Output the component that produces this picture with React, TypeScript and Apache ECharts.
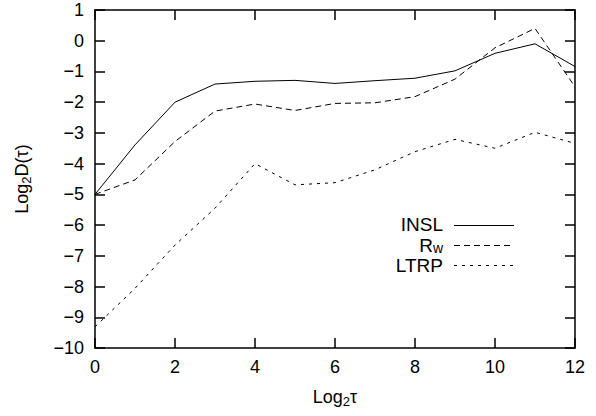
import React, { useEffect, useRef } from "react";
import * as echarts from "echarts";

const xs = [0, 1, 2, 3, 4, 5, 6, 7, 8, 9, 10, 11, 12];
const insl = [-5.0, -3.39, -2.0, -1.41, -1.32, -1.29, -1.39, -1.3, -1.22, -0.98, -0.41, -0.1, -0.84];
const rw = [-5.0, -4.53, -3.28, -2.29, -2.06, -2.27, -2.04, -2.02, -1.82, -1.25, -0.23, 0.4, -1.5];
const ltrp = [-9.31, -8.06, -6.65, -5.45, -4.0, -4.69, -4.62, -4.2, -3.61, -3.21, -3.5, -2.98, -3.34];

const FONT = "'Liberation Sans', Arial, sans-serif";
const FS = 18;
const LFS = 19;

const rich = {
  m: { fontSize: FS, fontFamily: FONT, color: "#000" },
  sub: { fontSize: 13, fontFamily: FONT, color: "#000", padding: [9, 0, 0, 0] },
};
const legRich = {
  m: { fontSize: LFS, fontFamily: FONT, color: "#000", lineHeight: 16 },
  sub: { fontSize: 14, fontFamily: FONT, color: "#000", lineHeight: 12, padding: [5, 0, 0, 0] },
};

export default function App() {
  const ref = useRef<HTMLDivElement>(null);
  useEffect(() => {
    if (!ref.current) return;
    const chart = echarts.init(ref.current, null, { renderer: "svg" });
    const axisLine = { show: true, onZero: false, lineStyle: { color: "#000", width: 1.5 } };
    const axisTick = { show: true, inside: true, length: 10, lineStyle: { color: "#000", width: 1.5 } };
    const fmt = (v: number) => String(v).replace("-", "\u2212");
    const mk = (d: number[]) => xs.map((x, i) => [x, d[i]]);
    chart.setOption({
      animation: false,
      backgroundColor: "#fff",
      grid: { left: 95, top: 10, right: 21, bottom: 68, containLabel: false },
      xAxis: [
        {
          type: "value", min: 0, max: 12, interval: 2, position: "bottom",
          axisLine, axisTick, splitLine: { show: false },
          axisLabel: { color: "#000", fontSize: FS, fontFamily: FONT, margin: 10, formatter: fmt },
          name: "{m|Log}{sub|2}{m|\u03c4}", nameLocation: "middle", nameGap: 38,
          nameTextStyle: { rich },
        },
        {
          type: "value", min: 0, max: 12, interval: 2, position: "top",
          axisLine, axisTick, splitLine: { show: false }, axisLabel: { show: false },
        },
      ],
      yAxis: [
        {
          type: "value", min: -10, max: 1, interval: 1, position: "left",
          axisLine, axisTick, splitLine: { show: false },
          axisLabel: { color: "#000", fontSize: FS, fontFamily: FONT, margin: 11, formatter: fmt },
          name: "{m|Log}{sub|2}{m|D(\u03c4)}", nameLocation: "middle", nameGap: 62,
          nameRotate: 90, nameTextStyle: { rich },
        },
        {
          type: "value", min: -10, max: 1, interval: 1, position: "right",
          axisLine, axisTick, splitLine: { show: false }, axisLabel: { show: false },
        },
      ],
      series: [
        { type: "line", name: "INSL", data: mk(insl), symbol: "none", lineStyle: { color: "#000", width: 1, type: "solid" } },
        { type: "line", name: "Rw", data: mk(rw), symbol: "none", lineStyle: { color: "#000", width: 1, type: [6, 4] } },
        { type: "line", name: "LTRP", data: mk(ltrp), symbol: "none", lineStyle: { color: "#000", width: 1, type: [3, 5] } },
      ],
      graphic: [
        { type: "text", x: 443, y: 224.5, style: { text: "INSL", font: `${LFS}px ${FONT}`, lineHeight: 16, fill: "#000", align: "right", verticalAlign: "middle" } },
        { type: "text", x: 443, y: 245, style: { text: "{m|R}{sub|w}", rich: legRich, align: "right", verticalAlign: "middle" } },
        { type: "text", x: 443, y: 265, style: { text: "LTRP", font: `${LFS}px ${FONT}`, lineHeight: 16, fill: "#000", align: "right", verticalAlign: "middle" } },
        { type: "line", shape: { x1: 454, y1: 225.5, x2: 514, y2: 225.5 }, style: { stroke: "#000", lineWidth: 1 } },
        { type: "line", shape: { x1: 454, y1: 245.5, x2: 514, y2: 245.5 }, style: { stroke: "#000", lineWidth: 1, lineDash: [6, 4] } },
        { type: "line", shape: { x1: 454, y1: 265.5, x2: 514, y2: 265.5 }, style: { stroke: "#000", lineWidth: 1, lineDash: [3, 5] } },
      ],
    });
    return () => chart.dispose();
  }, []);
  return <div ref={ref} style={{ width: 596, height: 416, position: "absolute", left: 0, top: 0 }} />;
}
